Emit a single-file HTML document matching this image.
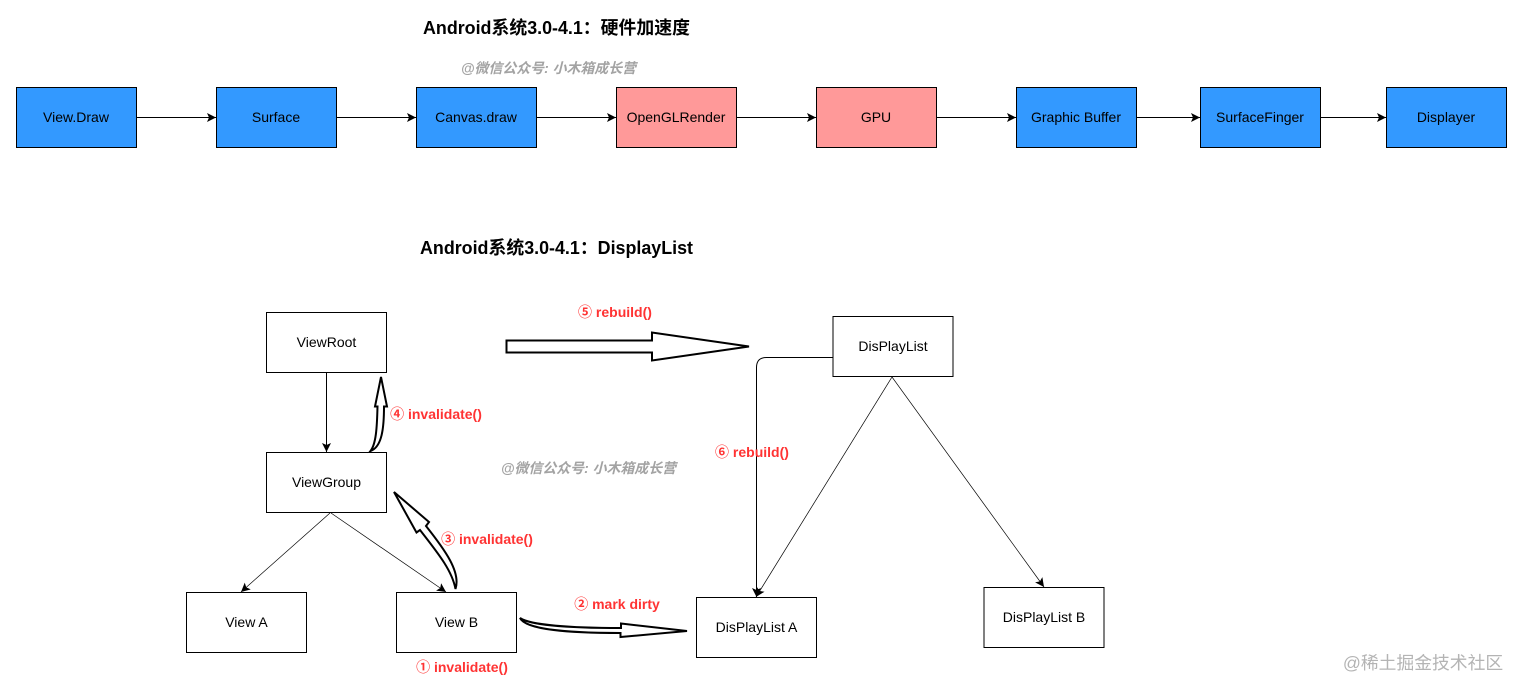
<!DOCTYPE html>
<html><head><meta charset="utf-8"><style>
html,body{margin:0;padding:0;background:#fff}
svg{display:block}
text{font-family:"Liberation Sans","Noto Sans CJK SC",sans-serif}
.l{font-size:14px;text-anchor:middle;fill:#000}
.t{font-size:18px;font-weight:bold;text-anchor:middle;fill:#000}
.r{font-size:14px;font-weight:bold;text-anchor:middle;fill:#FF3333}
.w{font-size:14px;font-weight:bold;font-style:italic;text-anchor:middle;fill:#a3a3a3}
.b{fill:#fff;stroke:#000;stroke-width:1}
.c{fill:none;stroke:#000;stroke-width:1}
.f{fill:#fff;stroke:#000;stroke-width:2;stroke-linejoin:miter}
</style></head><body>
<svg width="1523" height="694" viewBox="0 0 1523 694" xmlns="http://www.w3.org/2000/svg">
<defs><marker id="a" markerUnits="userSpaceOnUse" markerWidth="10" markerHeight="10" refX="9" refY="4.5" orient="auto"><path d="M0 0L9 4.5L0 9L2 4.5Z" fill="#000"/></marker></defs>
<text class="t" x="556.500" y="34" textLength="267" lengthAdjust="spacingAndGlyphs">Android系统3.0-4.1：硬件加速度</text>
<text class="w" x="548.500" y="73" textLength="175" lengthAdjust="spacingAndGlyphs">@微信公众号: 小木箱成长营</text>

<g class="b">
<rect x="16.5" y="87.5" width="120" height="60" style="fill:#3399FF"/>
<rect x="216.5" y="87.5" width="120" height="60" style="fill:#3399FF"/>
<rect x="416.5" y="87.5" width="120" height="60" style="fill:#3399FF"/>
<rect x="616.5" y="87.5" width="120" height="60" style="fill:#FF9999"/>
<rect x="816.5" y="87.5" width="120" height="60" style="fill:#FF9999"/>
<rect x="1016.5" y="87.5" width="120" height="60" style="fill:#3399FF"/>
<rect x="1200.5" y="87.5" width="120" height="60" style="fill:#3399FF"/>
<rect x="1386.5" y="87.5" width="120" height="60" style="fill:#3399FF"/>
</g>
<g class="c">
<path d="M136.5 117.5H216" marker-end="url(#a)"/>
<path d="M336.5 117.5H416" marker-end="url(#a)"/>
<path d="M536.5 117.5H616" marker-end="url(#a)"/>
<path d="M736.5 117.5H816" marker-end="url(#a)"/>
<path d="M936.5 117.5H1016" marker-end="url(#a)"/>
<path d="M1136.5 117.5H1200" marker-end="url(#a)"/>
<path d="M1320.5 117.5H1386" marker-end="url(#a)"/>
</g>
<text class="l" x="76" y="122">View.Draw</text>
<text class="l" x="276" y="122">Surface</text>
<text class="l" x="476" y="122">Canvas.draw</text>
<text class="l" x="676" y="122">OpenGLRender</text>
<text class="l" x="876" y="122">GPU</text>
<text class="l" x="1076" y="122">Graphic Buffer</text>
<text class="l" x="1260" y="122">SurfaceFinger</text>
<text class="l" x="1446" y="122">Displayer</text>

<text class="t" x="556.500" y="254" textLength="273" lengthAdjust="spacingAndGlyphs">Android系统3.0-4.1：DisplayList</text>

<rect class="b" x="266.5" y="312.5" width="120" height="60"/>
<rect class="b" x="266.5" y="452.5" width="120" height="60"/>
<rect class="b" x="186.5" y="592.5" width="120" height="60"/>
<rect class="b" x="396.5" y="592.5" width="120" height="60"/>
<rect class="b" x="833" y="316.5" width="120" height="60"/>
<rect class="b" x="696.5" y="597.5" width="120" height="60"/>
<rect class="b" x="984" y="587.5" width="120" height="60"/>

<path class="c" d="M326.5 372.5V452" marker-end="url(#a)"/>
<path class="c" d="M330 513L241 592" marker-end="url(#a)" style="stroke-width:.7"/>
<path class="c" d="M331 513L446 592" marker-end="url(#a)" style="stroke-width:.7"/>
<path class="c" d="M892 377L756 597" marker-end="url(#a)" style="stroke-width:.7"/>
<path class="c" d="M892 377L1044 587" marker-end="url(#a)" style="stroke-width:.7"/>
<path class="c" d="M833 357.5H766.5Q756.5 357.5 756.5 367.5V597" marker-end="url(#a)"/>

<path class="f" d="M506.5 340.5H652V332.500L749 346.500L652 360.500V352.500H506.500Z"/>
<path class="f" d="M370.500 451C376 444 377 428 377.500 406.500H375L381 377L387 406.500H384C384 428 382 447 370.500 451Z"/>
<path class="f" d="M455.500 589C452 570 437 552 420 530L416.500 532.500L394 492L429 522L426 526C445 550 461 572 455.500 589Z"/>
<path class="f" d="M520 618C530 625 570 628 621 628V623.500L687 631L620.500 637V633C570 633 526 630 520 618Z"/>

<text class="l" x="326.500" y="347">ViewRoot</text>
<text class="l" x="326.500" y="487">ViewGroup</text>
<text class="l" x="246.500" y="627">View A</text>
<text class="l" x="456.500" y="627">View B</text>
<text class="l" x="893" y="351">DisPlayList</text>
<text class="l" x="756.500" y="632">DisPlayList A</text>
<text class="l" x="1044" y="622">DisPlayList B</text>

<text class="r" x="615" y="317">⑤ rebuild()</text>
<text class="r" x="752" y="457">⑥ rebuild()</text>
<text class="r" x="436" y="419">④ invalidate()</text>
<text class="r" x="487" y="544">③ invalidate()</text>
<text class="r" x="617" y="609">② mark dirty</text>
<text class="r" x="462" y="672">① invalidate()</text>
<text class="w" x="588.500" y="473" textLength="175" lengthAdjust="spacingAndGlyphs">@微信公众号: 小木箱成长营</text>
<text x="1423" y="669" style="font-size:17.800px;text-anchor:middle;fill:#b4b4b4">@稀土掘金技术社区</text>
</svg>
</body></html>
